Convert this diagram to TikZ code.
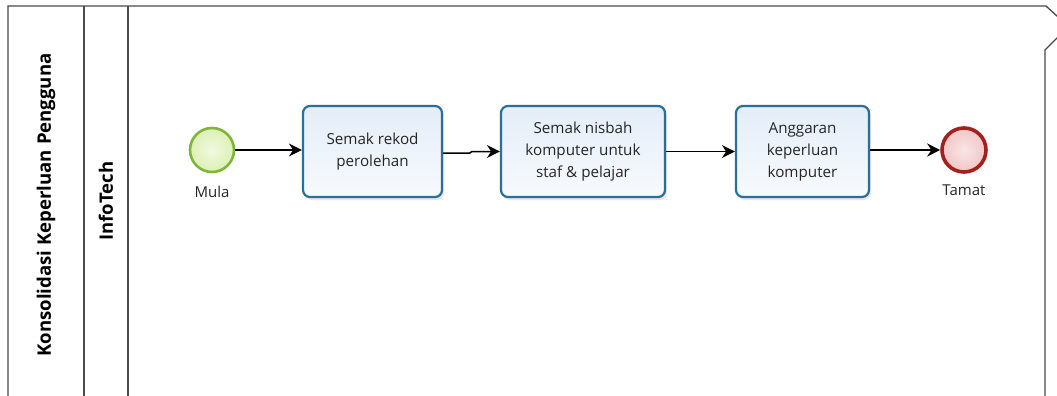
\documentclass[tikz,border=0pt]{standalone}
\usepackage{fontspec}
\setmainfont{Open Sans}
\usetikzlibrary{arrows.meta,shadows}
\definecolor{poolline}{HTML}{4A4A4A}
\definecolor{taskline}{HTML}{2A6F97}
\definecolor{tasktop}{HTML}{E4EDF8}
\definecolor{taskbot}{HTML}{F7FAFD}
\definecolor{startline}{HTML}{7DB63A}
\definecolor{startfill}{HTML}{DDF0B4}
\definecolor{endline}{HTML}{A3201F}
\definecolor{endfill}{HTML}{F2C6C6}
\definecolor{txt}{HTML}{262626}
\tikzset{
  lanebar/.style={poolline, line width=1.3pt},
  lanelabel/.style={rotate=90, text=black},
  task/.style={draw=taskline, line width=2.2pt, rounded corners=7pt,
    top color=tasktop, bottom color=taskbot,
    drop shadow={opacity=0.2, shadow xshift=2pt, shadow yshift=-3pt},
    minimum height=91pt, align=center, text=txt,
    font=\fontsize{15.2}{22}\selectfont},
  startev/.style={circle, draw=startline, line width=2.6pt, minimum size=44pt,
    inner color=white!60!startfill, outer color=startfill},
  endev/.style={circle, draw=endline, line width=3.6pt, minimum size=44pt,
    inner color=white!55!endfill, outer color=endfill},
  evlabel/.style={text=txt, font=\fontsize{15}{18}\selectfont},
  flow/.style={line width=1.5pt, -{Stealth[length=13pt,width=13pt]}}
}
\begin{document}
\begin{tikzpicture}[x=1pt,y=-1pt]
\useasboundingbox (0,0) rectangle (1057,396);
% pool outline with torn right edge
\draw[lanebar] (8,396) -- (8,6) -- (1046,6) -- (1058,17);
\draw[lanebar] (1058,37) -- (1045,50) -- (1045,396);
% lane header separators
\draw[lanebar] (84,6) -- (84,396);
\draw[lanebar] (128,6) -- (128,396);
\node[lanelabel, font=\bfseries\fontsize{18.6}{20}\selectfont] (pool) at (46,205) {Konsolidasi Keperluan Pengguna};
\node[lanelabel, font=\bfseries\fontsize{18.5}{20}\selectfont] (lane) at (106,201) {InfoTech};
% events and tasks
\node[startev] (start) at (212,150) {};
\node[evlabel] (mula) at (212,192) {Mula};
\node[task, minimum width=139pt] (b1) at (372.5,151.5) {Semak rekod\\perolehan};
\node[task, minimum width=164pt] (b2) at (583,151.5) {Semak nisbah\\komputer untuk\\staf \& pelajar};
\node[task, minimum width=133pt] (b3) at (802.5,151.5) {Anggaran\\keperluan\\komputer};
\node[endev] (end) at (964,150) {};
\node[evlabel] (tamat) at (964,190) {Tamat};
% sequence flows
\draw[flow] (start) -- (b1.west |- start);
\draw[flow] ([yshift=-1.5pt]b1.east) -- ([xshift=-30pt,yshift=-1.5pt]b2.west)
  -- ([xshift=-28pt]b2.west) -- (b2.west);
\draw[flow] (b2.east) -- (b3.west);
\draw[flow] (b3.east |- end) -- (end);
\end{tikzpicture}
\end{document}
